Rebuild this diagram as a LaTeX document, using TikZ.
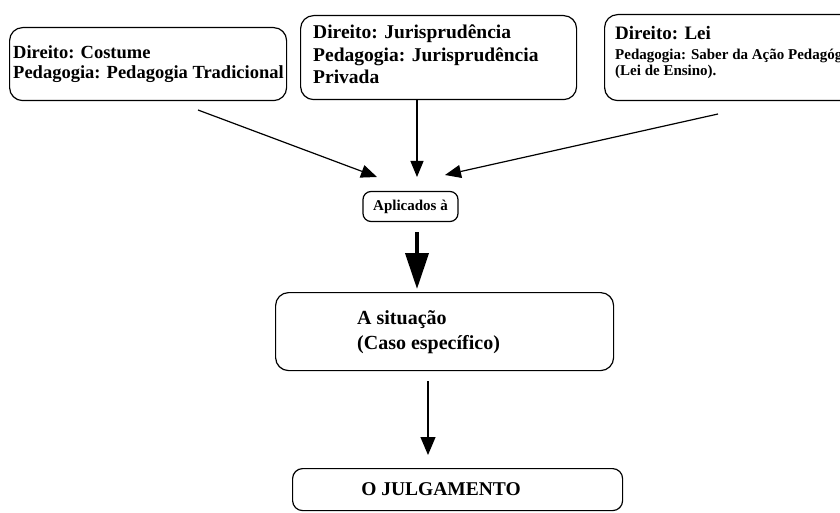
\documentclass[tikz,border=0pt]{standalone}
\usepackage{fontspec}
\setmainfont{Liberation Serif}
\usetikzlibrary{arrows.meta}
\begin{document}
\begin{tikzpicture}[x=1pt,y=-1pt,
  box/.style={draw,line width=1.2pt,rounded corners=13pt,inner sep=0pt},
  lbl/.style={font=\bfseries\fontsize{18.5}{20.5}\selectfont,align=left,inner sep=0pt,anchor=north west},
  thin/.style={-{Triangle[length=16pt,width=13pt]},line width=1.2pt},
  thick/.style={-{Triangle[length=36pt,width=23pt]},line width=4pt}]
\useasboundingbox (0,0) rectangle (840,513);
\clip (0,0) rectangle (840,513);
% boxes
\node[box,minimum width=277pt,minimum height=73pt,anchor=north west] (b1) at (9,27) {};
\node[lbl] (t1) at (13,45) {Direito: Costume\\Pedagogia: Pedagogia Tradicional};
\node[box,minimum width=276pt,minimum height=84pt,anchor=north west] (b2) at (300,15) {};
\node[lbl,font=\bfseries\fontsize{19.5}{22.5}\selectfont] (t2) at (313,25) {Direito: Jurisprudência\\Pedagogia: Jurisprudência\\Privada};
\node[box,minimum width=260pt,minimum height=86pt,anchor=north west] (b3) at (604,14) {};
\node[lbl,font=\bfseries\fontsize{19}{21}\selectfont] (t3a) at (615,26) {Direito: Lei};
\node[lbl,font=\bfseries\fontsize{15}{16}\selectfont] (t3b) at (615,49) {Pedagogia: Saber da Ação Pedagógica\\(Lei de Ensino).};
\node[box,rounded corners=8pt,minimum width=95pt,minimum height=30pt,font=\bfseries\fontsize{15}{17}\selectfont] (ap) at (410.5,206.5) {Aplicados à};
\node[box,minimum width=338pt,minimum height=78pt,anchor=north west] (sit) at (275,292) {};
\node[lbl,font=\bfseries\fontsize{20}{25}\selectfont] (tsit) at (357,310) {A situação\\(Caso específico)};
\node[box,rounded corners=10pt,minimum width=330pt,minimum height=42pt,anchor=north west] (jul) at (292,468) {};
\node[font=\bfseries\fontsize{19.5}{21}\selectfont,inner sep=0pt] (tjul) at (441,489) {O JULGAMENTO};
% connectors
\coordinate (s1) at (198,110);
\coordinate (e1) at (377,177);
\coordinate (e2) at (417,177);
\coordinate (s3) at (718,114);
\coordinate (e3) at (445,175);
\draw[thin] (s1) -- (e1);
\draw[thin] (b2.south -| e2) -- (e2);
\draw[thin] (s3) -- (e3);
\coordinate (s4) at (417,232);
\coordinate (e4) at (417,289);
\draw[thick] (s4) -- (e4);
\coordinate (s5) at (428,381);
\coordinate (e5) at (428,455);
\draw[thin,-{Triangle[length=18pt,width=15pt]}] (s5) -- (e5);
\end{tikzpicture}
\end{document}
